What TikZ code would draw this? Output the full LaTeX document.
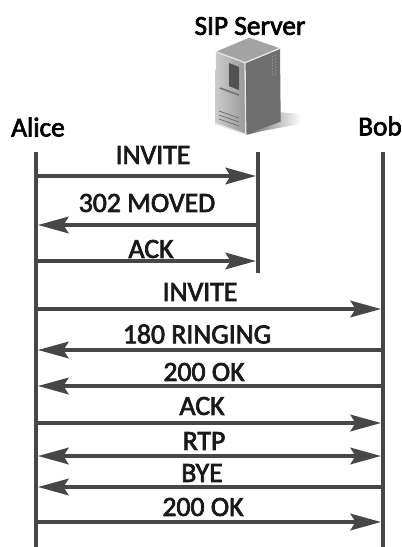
\documentclass[tikz,border=0pt]{standalone}
\usepackage{fontspec}
\setmainfont{Carlito}[FakeBold=2.6]
\usepackage{tikz}
\usetikzlibrary{arrows.meta, positioning, calc}

\begin{document}
\begin{tikzpicture}[
  x=0.75pt, y=-0.75pt,
  party/.style={font=\fontsize{20.5}{22}\selectfont, text=black, inner sep=0pt},
  msg/.style={font=\fontsize{20.8}{22}\selectfont, text=black!90, inner sep=0pt},
  life/.style={line width=3pt, draw=black!72},
  arrow/.style={-{Stealth[length=23pt, width=12.5pt, inset=4pt]}, line width=2.5pt, draw=black!72, shorten >=1.5pt, shorten <=1.5pt},
  both/.style={{Stealth[length=23pt, width=12.5pt, inset=4pt]}-{Stealth[length=23pt, width=12.5pt, inset=4pt]}, line width=2.5pt, draw=black!72, shorten >=1.5pt, shorten <=1.5pt}
]
\useasboundingbox (0,0) rectangle (401,547);

% parties
\node[party] (alice) at (38,127) {Alice};
\node[party] (server) at (250,26) {SIP Server};
\node[party] (bob) at (380,126) {Bob};

% server picture
\shade[left color=black!60, right color=white, draw=none] (278,112) -- (301,114) -- (300,124) -- (262,131) -- (246,135) -- cycle;
\shade[left color=black!20, right color=black!40] (216,51.7) -- (245,62.7) -- (245.7,134.3) -- (215,123.3) -- cycle;
\fill[black!57] (245,62.7) -- (280,48.3) -- (280.7,121.7) -- (245.7,134.3) -- cycle;
\fill[black!36] (216,51.7) -- (249.3,37.7) -- (280,48.3) -- (245,62.7) -- cycle;
\draw[black!10, line width=1pt] (216,51.7) -- (245,62.7) -- (280,48.3);
\draw[black!10, line width=1pt] (245,62.7) -- (245.7,134.3) -- (215,123.3);
\fill[black!68] (229,63) -- (239,67) -- (239,90) -- (229,86) -- cycle;
\draw[black!55, line width=1.2pt] (220,88) -- (239,95);
\foreach \yy in {111,115,119} {
  \draw[black!55, line width=0.6pt] (219,\yy) -- (239,\yy+7);
}
\foreach \yy in {57,60,63,66,69,72,75} {
  \draw[black!30, line width=0.6pt, dotted] (272,\yy) -- (278,\yy-2);
}

% lifelines
\coordinate (alicetop) at (36,152);
\coordinate (alicebot) at (36,547);
\coordinate (servertop) at (258,152);
\coordinate (serverbot) at (258,273);
\coordinate (bobtop) at (383,152);
\coordinate (bobbot) at (383,547);
\draw[life] (alicetop) -- (alicebot);
\draw[life] (servertop) -- (serverbot);
\draw[life] (bobtop) -- (bobbot);

% messages
\node[msg] (m1) at (153,155) {INVITE};
\node[msg] (m2) at (147,203) {302 MOVED};
\node[msg] (m3) at (151,249) {ACK};
\node[msg] (m4) at (200,292) {INVITE};
\node[msg] (m5) at (197,334) {180 RINGING};
\node[msg] (m6) at (204,372) {200 OK};
\node[msg] (m7) at (202,406) {ACK};
\node[msg] (m8) at (204,441) {RTP};
\node[msg] (m9) at (202,473) {BYE};
\node[msg] (m10) at (203,507) {200 OK};

\draw[arrow] (alicetop |- 0,176) -- (servertop |- 0,176);
\draw[arrow] (servertop |- 0,225) -- (alicetop |- 0,225);
\draw[arrow] (alicetop |- 0,261) -- (servertop |- 0,261);
\draw[arrow] (alicetop |- 0,309) -- (bobtop |- 0,309);
\draw[arrow] (bobtop |- 0,350) -- (alicetop |- 0,350);
\draw[arrow] (bobtop |- 0,386) -- (alicetop |- 0,386);
\draw[arrow] (alicetop |- 0,423) -- (bobtop |- 0,423);
\draw[both] (alicetop |- 0,456) -- (bobtop |- 0,456);
\draw[arrow] (bobtop |- 0,487) -- (alicetop |- 0,487);
\draw[arrow] (alicetop |- 0,522) -- (bobtop |- 0,522);
\end{tikzpicture}
\end{document}
